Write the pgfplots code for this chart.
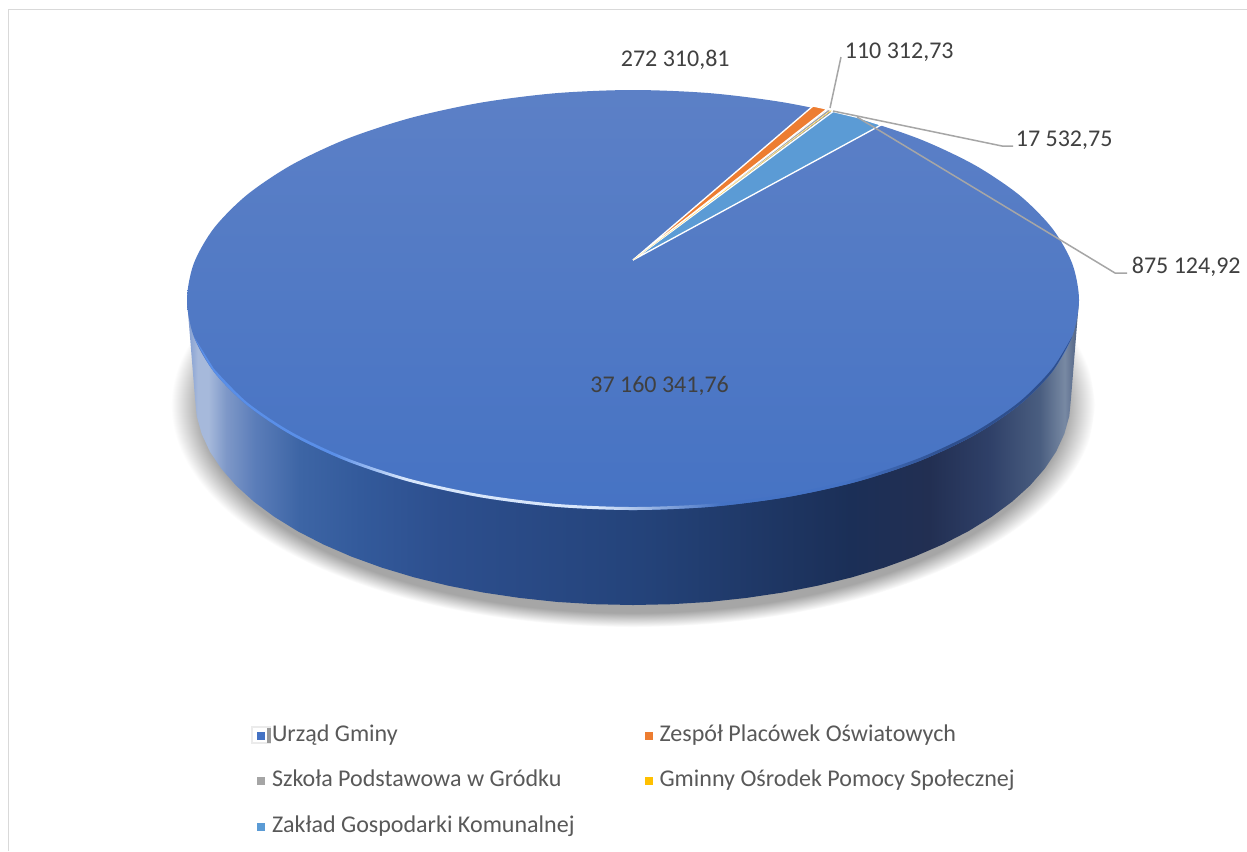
\documentclass[border=0pt]{standalone}
\usepackage{fontspec}
\setmainfont{Carlito}
\usepackage{pgfplots}
\pgfplotsset{compat=1.18}
\definecolor{sA}{HTML}{7E9AD0}
\definecolor{sB}{HTML}{A6B9DB}
\definecolor{sB2}{HTML}{7E98C8}
\definecolor{sC}{HTML}{5B7DB9}
\definecolor{sD}{HTML}{3D65A5}
\definecolor{sE}{HTML}{335A9B}
\definecolor{sF}{HTML}{2D4F8E}
\definecolor{sG}{HTML}{24437A}
\definecolor{sH}{HTML}{1B2F57}
\definecolor{sI}{HTML}{222F52}
\definecolor{sJ}{HTML}{2F4068}
\definecolor{sK}{HTML}{4A5E80}
\definecolor{sL}{HTML}{7889A3}
\definecolor{rA}{HTML}{5A8FE8}
\definecolor{rB}{HTML}{4472C4}
\definecolor{rC}{HTML}{D8E6FA}
\definecolor{rD}{HTML}{2E4F8E}
\definecolor{shad}{HTML}{A6A6A6}
\pgfdeclarehorizontalshading{sideshade}{100bp}{color(0bp)=(sA);color(25bp)=(sA);color(25.6bp)=(sB);color(26.2bp)=(sB);color(27.2bp)=(sB2);color(28.8bp)=(sC);color(31.3bp)=(sD);color(34.7bp)=(sE);color(39.2bp)=(sF);color(50.4bp)=(sG);color(62.2bp)=(sH);color(66.6bp)=(sI);color(70bp)=(sJ);color(72.8bp)=(sK);color(74.2bp)=(sL);color(75bp)=(sK);color(100bp)=(sK)}
\pgfdeclarehorizontalshading{rimshade}{100bp}{color(0bp)=(rA);color(25bp)=(rA);color(33bp)=(rA);color(37bp)=(rC);color(48bp)=(rC);color(55bp)=(rB);color(62bp)=(rB);color(68bp)=(rD);color(75bp)=(rD);color(100bp)=(rD)}
\pgfdeclareradialshading{shadowshade}{\pgfpoint{0bp}{0bp}}{color(0bp)=(shad);color(23.4bp)=(shad);color(25bp)=(white);color(50bp)=(white)}
\begin{document}
\begin{tikzpicture}
\begin{axis}[
  scale only axis, width=748.2pt, height=510.6pt,
  xmin=0, xmax=1247, ymin=0, ymax=851, y dir=reverse,
  hide axis,
  legend columns=2,
  legend cell align=left,
  legend image code/.code={\fill[#1,draw=none] (0pt,-2.4pt) rectangle (4.8pt,2.4pt);},
  legend style={at={(axis cs:257,725)}, anchor=north west, draw=none, fill=none, inner sep=0pt, outer sep=0pt,
    font=\fontsize{14.42pt}{16pt}\selectfont, text=black!65,
    row sep=13.6pt,
    nodes={inner sep=0pt, outer sep=0pt, text height=10pt, text depth=3.5pt},
    /tikz/column 2/.style={column sep=42pt},
    /tikz/column 1/.style={column sep=4.2pt},
    /tikz/column 3/.style={column sep=4.2pt}},
  legend entries={Urząd Gminy, Zespół Placówek Oświatowych, Szkoła Podstawowa w Gródku, Gminny Ośrodek Pomocy Społecznej, Zakład Gospodarki Komunalnej},
]
\fill[white] (axis cs:0,0) rectangle (axis cs:1247,851);
\draw[color=black!15, line width=0.6pt] (axis cs:8,851) -- (axis cs:8,9) -- (axis cs:1247,9);
\addlegendimage{fill=rB}
\addlegendimage{fill={rgb,255:red,237;green,125;blue,49}}
\addlegendimage{fill={rgb,255:red,165;green,165;blue,165}}
\addlegendimage{fill={rgb,255:red,255;green,192;blue,0}}
\addlegendimage{fill={rgb,255:red,91;green,155;blue,213}}
% shadow
\addplot[forget plot, draw=none, shade, shading=shadowshade, smooth] coordinates {
(1095,405)(1088,443.5)(1067.1,480.9)(1033.1,516)(986.9,547.7)(930,575)(864,597.3)(791,613.6)(713.2,623.6)(633,627)
(552.8,623.6)(475,613.6)(402,597.3)(336,575)(279.1,547.7)(232.9,516)(198.9,480.9)(178,443.5)(171,405)
(178,366.5)(198.9,329.1)(232.9,294)(279.1,262.3)(336,235)(402,212.7)(475,196.4)(552.8,186.4)(633,183)
(713.2,186.4)(791,196.4)(864,212.7)(930,235)(986.9,262.3)(1033.1,294)(1067.1,329.1)(1088,366.5)(1095,405)} -- cycle;
% side wall
\addplot[forget plot, draw=none, shade, shading=sideshade] coordinates {
(187,300)(1079,300)
(1071,398)(1069.3,416)(1064.3,433.9)(1056.1,451.6)(1044.6,468.8)(1030,485.5)(1012.3,501.5)(991.8,516.7)(968.5,531.1)(942.7,544.4)(914.5,556.6)(884.2,567.6)(852,577.3)(818.1,585.6)(782.8,592.5)(746.4,597.9)(709.1,601.9)(671.2,604.2)(633,605)
(594.8,604.2)(556.9,601.9)(519.6,597.9)(483.2,592.5)(447.9,585.6)(414,577.3)(381.8,567.6)(351.5,556.6)(323.3,544.4)(297.5,531.1)(274.2,516.7)(253.7,501.5)(236,485.5)(221.4,468.8)(209.9,451.6)(201.7,433.9)(196.7,416)(195,398)} -- cycle;
% top face: Urząd Gminy 37 160 341,76
\addplot[forget plot, draw=none, top color={rgb,255:red,92;green,128;blue,198}, bottom color={rgb,255:red,70;green,115;blue,196}, smooth] coordinates {
(1072.2,336.5)(1079,300)(1072.2,263.5)(1052.1,228.2)(1019.2,195)(974.6,165)(919.7,139.1)(856,118.1)(785.5,102.7)(710.4,93.2)(633,90)
(555.6,93.2)(480.5,102.7)(410,118.1)(346.3,139.1)(291.4,165)(246.8,195)(213.9,228.2)(193.8,263.5)(187,300)
(193.8,336.5)(213.9,371.8)(246.8,405)(291.4,435)(346.3,460.9)(410,481.9)(480.5,497.3)(555.6,506.8)(633,510)
(710.4,506.8)(785.5,497.3)(856,481.9)(919.7,460.9)(974.6,435)(1019.2,405)(1052.1,371.8)(1072.2,336.5)(1079,300)(1072.2,263.5)} -- cycle;
% rim
\addplot[forget plot, draw=none, shade, shading=rimshade, smooth] coordinates {
(193.8,336.5)(213.9,371.8)(246.8,405)(291.4,435)(346.3,460.9)(410,481.9)(480.5,497.3)(555.6,506.8)(633,510)
(710.4,506.8)(785.5,497.3)(856,481.9)(919.7,460.9)(974.6,435)(1019.2,405)(1052.1,371.8)(1072.2,336.5)
(1052.1,368.8)(1019.2,402)(974.6,432)(919.7,457.9)(856,478.9)(785.5,494.3)(710.4,503.8)(633,507)
(555.6,503.8)(480.5,494.3)(410,478.9)(346.3,457.9)(291.4,432)(246.8,402)(213.9,368.8)} -- cycle;
% small slices
\addplot[forget plot, fill={rgb,255:red,91;green,155;blue,213}, draw=white, line width=0.8pt] coordinates {(633,260)(833,111.5)(858,117.5)(881,125)} -- cycle;
\addplot[forget plot, fill={rgb,255:red,237;green,125;blue,49}, draw=white, line width=0.8pt] coordinates {(633,260)(813,106)(827,109)} -- cycle;
\addplot[forget plot, fill={rgb,255:red,165;green,165;blue,165}, draw=white, line width=0.5pt] coordinates {(633,260)(828,109.5)(831,110.5)} -- cycle;
\addplot[forget plot, fill={rgb,255:red,255;green,192;blue,0}, draw=none] coordinates {(633,260)(831,110.5)(831.5,110.7)} -- cycle;
% leader lines
\addplot[forget plot, color=shad, line width=0.9pt] coordinates {(830,108)(841,57)};
\addplot[forget plot, color=shad, line width=0.9pt] coordinates {(833,111)(1002,146)(1013,146)};
\addplot[forget plot, color=shad, line width=0.9pt] coordinates {(857,117)(1115,273)(1127,273)};
% legend first swatch frame
\fill[black!8] (axis cs:251,726) rectangle (axis cs:271,744);
\fill[black!40] (axis cs:267,728) rectangle (axis cs:271,743);
\fill[white] (axis cs:253,728) rectangle (axis cs:267,742);
% labels
\begin{scope}[every node/.style={font=\fontsize{14.4pt}{16pt}\selectfont, text=black!75, inner sep=0pt, anchor=west}]
\node at (axis cs:620.5,60) {272 310,81};
\node at (axis cs:844.5,52) {110 312,73};
\node at (axis cs:1015.5,140) {17 532,75};
\node at (axis cs:1131.5,267) {875 124,92};
\node at (axis cs:590,386) {37 160 341,76};
\end{scope}
\end{axis}
\end{tikzpicture}
\end{document}
